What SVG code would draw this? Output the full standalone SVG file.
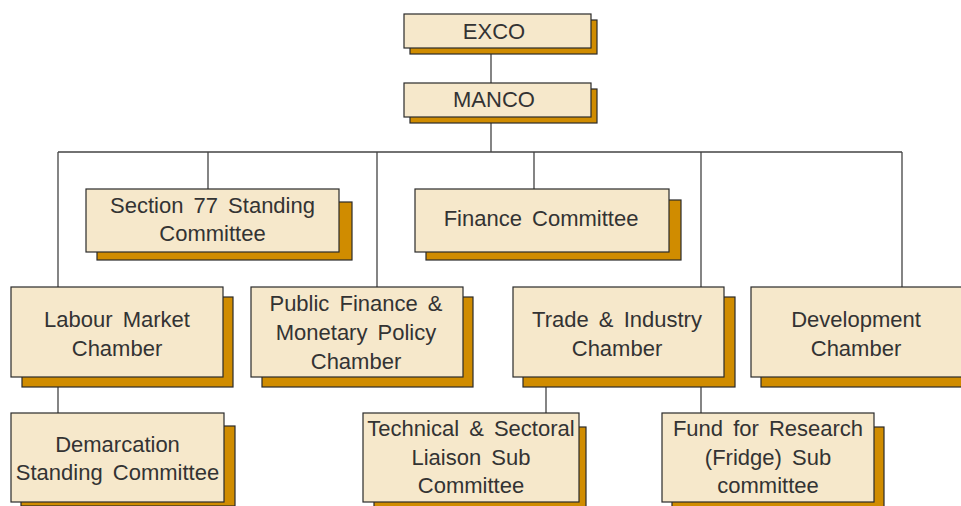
<svg xmlns="http://www.w3.org/2000/svg" width="961" height="506" viewBox="0 0 961 506">
<style>
.sh{fill:#d08c00;stroke:#2a2a2a;stroke-width:1.2}
.bx{fill:#f6e8cb;stroke:#2a2a2a;stroke-width:1.2}
.t{font-family:"Liberation Sans",Arial,sans-serif;font-size:22px;fill:#333;text-anchor:middle;word-spacing:4px}
.c{stroke:#444;stroke-width:1.3;fill:none}
</style>
<rect width="961" height="506" fill="#fff"/>
<g id="connectors">
<path class="c" d="M491 48V83M491 117V152M58 152H902M58 152V287M208 152V189M377 152V287M534 152V189M701 152V287M902 152V287M58 377V413M546 377V413M701 377V413"/>
</g>
<g id="exco">
<rect class="sh" x="410" y="20" width="187" height="34"/>
<rect class="bx" x="404" y="14" width="187" height="34"/>
<text class="t" x="494" y="38.5">EXCO</text>
</g>
<g id="manco">
<rect class="sh" x="410" y="89" width="187" height="34"/>
<rect class="bx" x="404" y="83" width="187" height="34"/>
<text class="t" x="494" y="107">MANCO</text>
</g>
<g id="section77">
<rect class="sh" x="97" y="202" width="255" height="58"/>
<rect class="bx" x="86" y="189" width="253" height="63"/>
<text class="t" x="212.5" y="213">Section 77 Standing</text>
<text class="t" x="212.5" y="240.5">Committee</text>
</g>
<g id="finance">
<rect class="sh" x="426" y="200" width="255" height="60"/>
<rect class="bx" x="415" y="189" width="254" height="63"/>
<text class="t" x="541" y="226">Finance Committee</text>
</g>
<g id="labour">
<rect class="sh" x="22" y="297" width="211" height="90"/>
<rect class="bx" x="11" y="287" width="212" height="90"/>
<text class="t" x="117" y="327">Labour Market</text>
<text class="t" x="117" y="355.5">Chamber</text>
</g>
<g id="publicfinance">
<rect class="sh" x="262" y="297" width="211" height="90"/>
<rect class="bx" x="251" y="287" width="212" height="90"/>
<text class="t" x="356" y="311">Public Finance &amp;</text>
<text class="t" x="356" y="340">Monetary Policy</text>
<text class="t" x="356" y="368.5">Chamber</text>
</g>
<g id="trade">
<rect class="sh" x="523" y="297" width="212" height="90"/>
<rect class="bx" x="513" y="287" width="211" height="90"/>
<text class="t" x="617" y="327">Trade &amp; Industry</text>
<text class="t" x="617" y="355.5">Chamber</text>
</g>
<g id="development">
<rect class="sh" x="761" y="297" width="212" height="90"/>
<rect class="bx" x="751" y="287" width="212" height="90"/>
<text class="t" x="856" y="327">Development</text>
<text class="t" x="856" y="355.5">Chamber</text>
</g>
<g id="demarcation">
<rect class="sh" x="21" y="426" width="214" height="80"/>
<rect class="bx" x="11" y="413" width="213" height="89"/>
<text class="t" x="117.5" y="452">Demarcation</text>
<text class="t" x="117.5" y="480">Standing Committee</text>
</g>
<g id="technical">
<rect class="sh" x="374" y="427" width="212" height="80"/>
<rect class="bx" x="363" y="413" width="216" height="89"/>
<text class="t" x="471" y="436">Technical &amp; Sectoral</text>
<text class="t" x="471" y="465">Liaison Sub</text>
<text class="t" x="471" y="493">Committee</text>
</g>
<g id="fund">
<rect class="sh" x="672" y="427" width="212" height="80"/>
<rect class="bx" x="662" y="413" width="212" height="89"/>
<text class="t" x="768" y="436">Fund for Research</text>
<text class="t" x="768" y="465">(Fridge) Sub</text>
<text class="t" x="768" y="493">committee</text>
</g>
</svg>
